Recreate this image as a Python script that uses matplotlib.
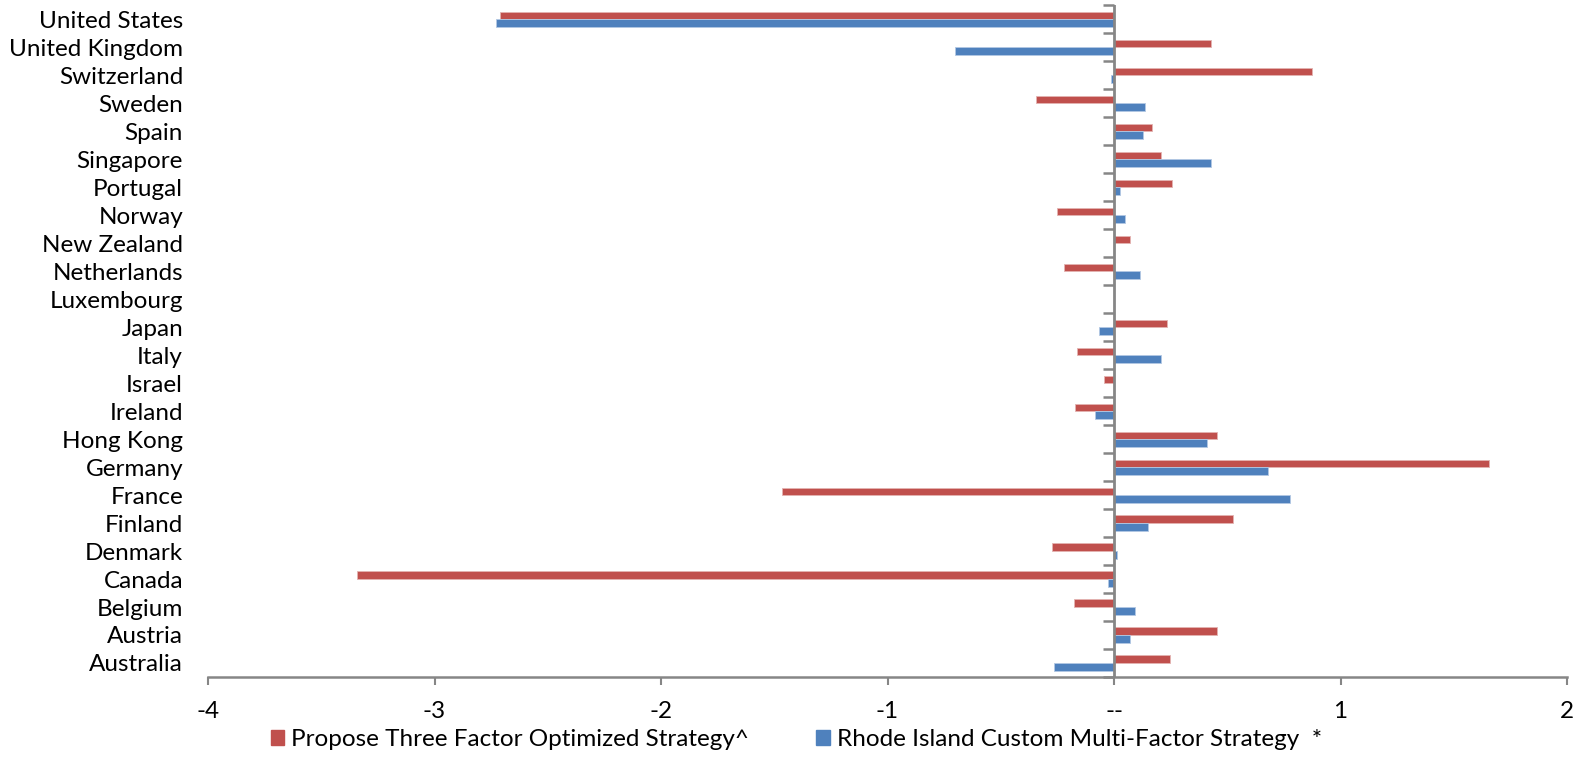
import matplotlib
matplotlib.use("Agg")
import matplotlib.pyplot as plt
from matplotlib.patches import Patch
from matplotlib.markers import TICKLEFT
import numpy as np

# datos, de arriba hacia abajo
countries = ["United States", "United Kingdom", "Switzerland", "Sweden", "Spain",
             "Singapore", "Portugal", "Norway", "New Zealand", "Netherlands",
             "Luxembourg", "Japan", "Italy", "Israel", "Ireland", "Hong Kong",
             "Germany", "France", "Finland", "Denmark", "Canada", "Belgium",
             "Austria", "Australia"]
propose = [-2.711, 0.427, 0.876, -0.343, 0.166, 0.206, 0.256, -0.253, 0.072, -0.219,
           0.0, 0.235, -0.162, -0.043, -0.172, 0.456, 1.657, -1.467, 0.526, -0.276,
           -3.344, -0.179, 0.455, 0.246]
rhode = [-2.728, -0.702, -0.015, 0.137, 0.13, 0.43, 0.025, 0.049, 0.0, 0.113,
         0.0, -0.065, 0.206, 0.0, -0.084, 0.409, 0.678, 0.779, 0.152, 0.015,
         -0.027, 0.091, 0.07, -0.263]
xticks = [-4, -3, -2, -1, 0, 1, 2]
xlabels = ["-4", "-3", "-2", "-1", "--", "1", "2"]
series_names = ["Propose Three Factor Optimized Strategy^",
                "Rhode Island Custom Multi-Factor Strategy  *"]

red = "#C0504D"
blue = "#4F81BD"
grey = "#868686"
fs = 17.5

plt.rcParams['font.family'] = ['Lato', 'DejaVu Sans']

fig = plt.figure(figsize=(15.77, 7.82), dpi=100)
ax = fig.add_axes([0.1319, 0.1343, 0.8618, 0.8589])

n = len(countries)
y = np.arange(n)[::-1]
h = 0.27
# barras: rojo arriba, azul abajo en cada pais
ax.barh(y + h / 2, propose, height=h, color=red, edgecolor="#e3b3b2", linewidth=0.6)
ax.barh(y - h / 2, rhode, height=h, color=blue, edgecolor="#b3c8e3", linewidth=0.6)

xmin, xmax = -4, 2
ax.set_xlim(xmin, xmax)
ax.set_ylim(-0.5, n - 0.5)

# etiquetas de paises a la izquierda
ax.set_yticks(y)
ax.set_yticklabels(countries, fontsize=fs)
ax.tick_params(axis="y", length=0, pad=18)

# eje x
ax.set_xticks(xticks)
ax.set_xticklabels(xlabels, fontsize=fs)
ax.tick_params(axis="x", direction="out", length=6, width=1.5, color=grey, pad=11)

for s in ["top", "right", "left"]:
    ax.spines[s].set_visible(False)
ax.spines["bottom"].set_color(grey)
ax.spines["bottom"].set_linewidth(1.8)

# eje vertical en cero con marcas entre categorias
ax.axvline(0, color=grey, linewidth=2.0, zorder=3)
bounds = np.arange(n + 1) - 0.5
ax.plot(np.zeros(n + 1), bounds, linestyle="none", marker=TICKLEFT,
        markersize=8, markeredgewidth=1.8, color=grey, clip_on=False, zorder=3)

# leyenda abajo
handles = [Patch(color=red), Patch(color=blue)]
fig.legend(handles, series_names, loc="center", bbox_to_anchor=(0.505, 0.054),
           ncol=2, frameon=False, fontsize=fs, handlelength=0.55, handleheight=0.55,
           handletextpad=0.3, columnspacing=2.75)

fig.savefig("out.png", dpi=100)
